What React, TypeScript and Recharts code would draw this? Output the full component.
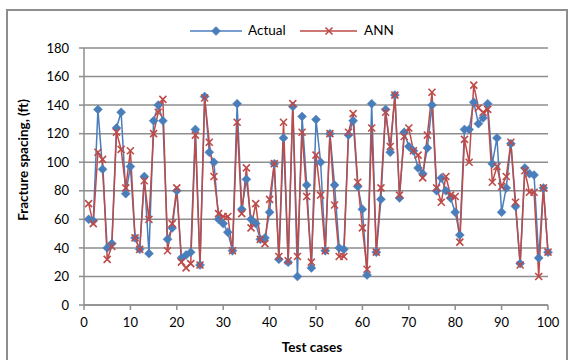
import React from 'react';
import { LineChart, Line, XAxis, YAxis, CartesianGrid } from 'recharts';

// values, test cases 1..100
const actual = [
  60, 59, 137, 95, 40, 43, 124, 135, 78, 97,
  47, 39, 90, 36, 129, 140, 129, 46, 54, 80,
  33, 35, 37, 123, 28, 146, 107, 100, 60, 57,
  51, 38, 141, 67, 88, 60, 57, 46, 47, 65,
  99, 32, 117, 30, 139, 20, 132, 84, 26, 130,
  100, 38, 120, 84, 40, 39, 119, 129, 83, 67,
  21, 141, 37, 74, 137, 107, 147, 75, 121, 111,
  108, 96, 92, 110, 140, 80, 89, 80, 75, 65,
  49, 123, 123, 142, 127, 131, 141, 99, 117, 65,
  82, 113, 69, 29, 96, 92, 91, 33, 82, 37,
];

const ann = [
  71, 57, 107, 102, 32, 41, 121, 109, 82, 108,
  47, 39, 87, 60, 120, 135, 144, 38, 57, 82,
  30, 26, 29, 119, 28, 145, 114, 90, 64, 62,
  62, 38, 128, 64, 96, 54, 71, 46, 43, 74,
  99, 34, 128, 31, 141, 34, 121, 76, 30, 105,
  77, 38, 120, 70, 34, 34, 121, 134, 86, 54,
  25, 124, 37, 82, 135, 111, 147, 77, 118, 124,
  108, 105, 89, 119, 149, 82, 72, 90, 77, 76,
  44, 116, 100, 154, 138, 135, 137, 86, 97, 83,
  90, 114, 72, 28, 94, 79, 79, 20, 82, 37,
];

const xTicks = [0, 10, 20, 30, 40, 50, 60, 70, 80, 90, 100];
const yTicks = [0, 20, 40, 60, 80, 100, 120, 140, 160, 180];

const BLUE = '#4a7ebb';
const RED = '#be4b48';
const GRID = '#8e8e8e';
const FONT = 'Lato, "Open Sans", sans-serif';

const data = actual.map((a, i) => ({ test: i + 1, actual: a, ann: ann[i] }));

const Diamond = (props: any) => {
  const { cx, cy, index } = props;
  if (cx == null || cy == null) return null;
  const r = 4.5;
  return (
    <path
      key={`d-${index}`}
      d={`M${cx},${cy - r}L${cx + r},${cy}L${cx},${cy + r}L${cx - r},${cy}Z`}
      fill={BLUE}
      stroke={BLUE}
      strokeWidth={0.5}
    />
  );
};

const Cross = (props: any) => {
  const { cx, cy, index } = props;
  if (cx == null || cy == null) return null;
  const r = 3.5;
  return (
    <g key={`x-${index}`} stroke={RED} strokeWidth={1.6}>
      <line x1={cx - r} y1={cy - r} x2={cx + r} y2={cy + r} />
      <line x1={cx - r} y1={cy + r} x2={cx + r} y2={cy - r} />
    </g>
  );
};

const tickStyle = { fontSize: 13, fill: '#000', fontFamily: FONT };

export default function App() {
  return (
    <div
      style={{
        position: 'absolute',
        left: 0,
        top: 0,
        width: 573,
        height: 360,
        overflow: 'hidden',
        background: '#fff',
        fontFamily: FONT,
      }}
    >
      <div
        style={{
          position: 'absolute',
          left: 6,
          top: 9,
          width: 558,
          height: 400,
          borderTop: `2px solid ${GRID}`,
          borderLeft: `2px solid ${GRID}`,
          borderRight: `2px solid ${GRID}`,
        }}
      />

      {/* legend */}
      <div style={{ position: 'absolute', left: 190, top: 23, height: 16, fontSize: 13.5 }}>
        <svg width={52} height={16} style={{ position: 'absolute', left: 0, top: 0 }}>
          <line x1={0} y1={8} x2={52} y2={8} stroke={BLUE} strokeWidth={1.5} />
          <Diamond cx={26} cy={8} index={0} />
        </svg>
        <span style={{ position: 'absolute', left: 58, top: -1, whiteSpace: 'nowrap' }}>Actual</span>
        <svg width={57} height={16} style={{ position: 'absolute', left: 110, top: 0 }}>
          <line x1={0} y1={8} x2={57} y2={8} stroke={RED} strokeWidth={1.5} />
          <Cross cx={29} cy={8} index={0} />
        </svg>
        <span style={{ position: 'absolute', left: 174, top: -1, whiteSpace: 'nowrap' }}>ANN</span>
      </div>

      <LineChart
        width={573}
        height={360}
        data={data}
        margin={{ top: 48, right: 25, bottom: 0, left: 0 }}
        style={{ position: 'absolute', left: 0, top: 0 }}
      >
        <CartesianGrid vertical={false} stroke={GRID} strokeWidth={1.5} />
        <XAxis
          dataKey="test"
          type="number"
          domain={[0, 100]}
          ticks={xTicks}
          interval={0}
          height={55}
          tick={tickStyle}
          tickSize={5}
          tickMargin={8}
          stroke={GRID}
          strokeWidth={1.5}
          label={{
            content: (p: any) => {
              const vb = p.viewBox;
              return (
                <text
                  x={vb.x + vb.width / 2 - 4}
                  y={347}
                  textAnchor="middle"
                  dominantBaseline="central"
                  fontSize={13.5}
                  fontWeight="bold"
                  fontFamily={FONT}
                  fill="#000"
                >
                  Test cases
                </text>
              );
            },
          }}
        />
        <YAxis
          type="number"
          domain={[0, 180]}
          ticks={yTicks}
          interval={0}
          width={84}
          tick={tickStyle}
          tickSize={5}
          tickMargin={10}
          stroke={GRID}
          strokeWidth={1.5}
          label={{
            content: () => (
              <text
                x={23}
                y={160}
                transform="rotate(-90 23 160)"
                textAnchor="middle"
                dominantBaseline="central"
                fontSize={13.5}
                fontWeight="bold"
                fontFamily={FONT}
                fill="#000"
              >
                Fracture spacing, (ft)
              </text>
            ),
          }}
        />
        <Line
          type="linear"
          dataKey="actual"
          stroke={BLUE}
          strokeWidth={1.5}
          dot={<Diamond />}
          activeDot={false}
          isAnimationActive={false}
        />
        <Line
          type="linear"
          dataKey="ann"
          stroke={RED}
          strokeWidth={1.5}
          dot={<Cross />}
          activeDot={false}
          isAnimationActive={false}
        />
      </LineChart>
    </div>
  );
}
